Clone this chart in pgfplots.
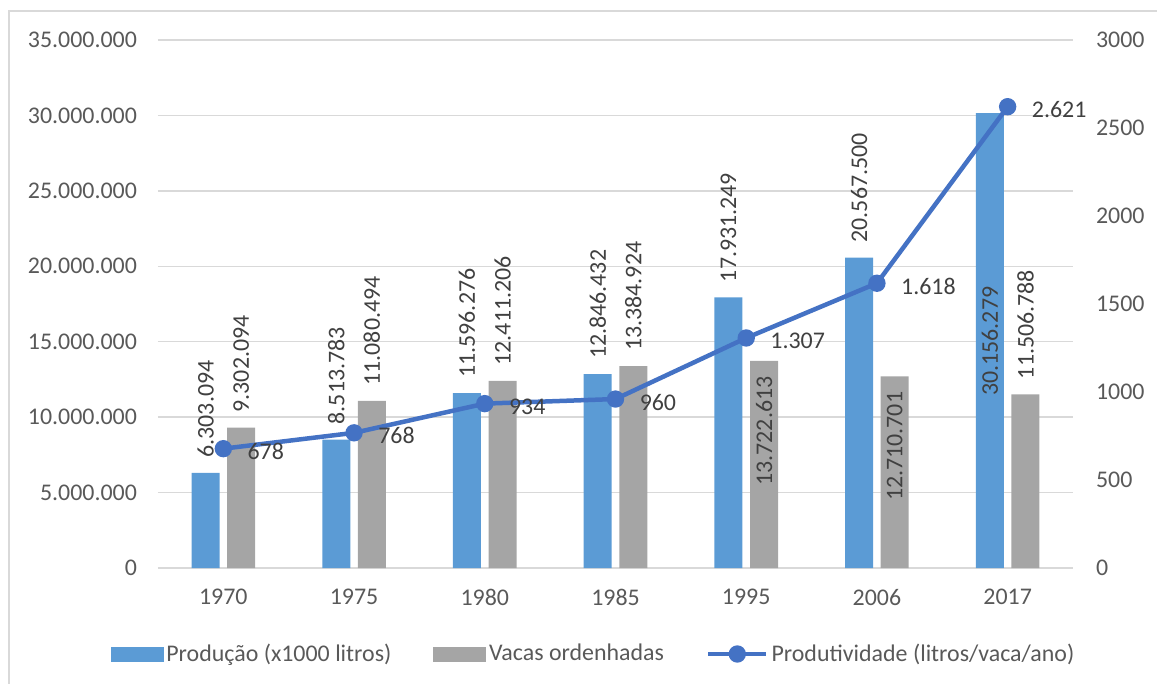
\documentclass[border=0pt]{standalone}
\usepackage{fontspec}
\setmainfont{Carlito}
\usepackage{pgfplots}
\pgfplotsset{compat=1.18}
\usepackage{pgfplotstable}
\definecolor{cprod}{HTML}{5B9BD5}
\definecolor{cvac}{HTML}{A5A5A5}
\definecolor{cline}{HTML}{4472C4}
\definecolor{cgrid}{HTML}{D9D9D9}
\definecolor{ctxt}{HTML}{595959}
\definecolor{clab}{HTML}{404040}
\newcommand\cf{\fontsize{12}{14}\selectfont}

\pgfplotstableread{
x prod prodlab prodsh vac vaclab vacsh pv pvlab
0 6303094 6.303.094 7.5 9302094 9.302.094 7.5 678 678
1 8513783 8.513.783 7.5 11080494 11.080.494 7.5 768 768
2 11596276 11.596.276 7.5 12411206 12.411.206 7.5 934 934
3 12846432 12.846.432 7.5 13384924 13.384.924 7.5 960 960
4 17931249 17.931.249 7.5 13722613 13.722.613 -62.5 1307 1.307
5 20567500 20.567.500 7.5 12710701 12.710.701 -62.5 1618 1.618
6 30156279 30.156.279 -141.5 11506788 11.506.788 7.5 2621 2.621
}\data

\begin{document}
\begin{tikzpicture}
\useasboundingbox (-79bp,-58bp) rectangle (499.5bp,284bp);
\draw[cgrid, line width=0.75bp] (-74.5bp,-58bp) -- (-74.5bp,278.5bp) -- (499.5bp,278.5bp);
\begin{axis}[
  scale only axis, width=457.5bp, height=264bp,
  xmin=-0.5, xmax=6.5, ymin=0, ymax=35000000,
  ybar=3.8bp, bar width=14bp,
  xtick={0,1,2,3,4,5,6},
  xticklabels={1970,1975,1980,1985,1995,2006,2017},
  ytick={0,5000000,10000000,15000000,20000000,25000000,30000000,35000000},
  yticklabels={0,5.000.000,10.000.000,15.000.000,20.000.000,25.000.000,30.000.000,35.000.000},
  scaled y ticks=false,
  ymajorgrids, grid style={cgrid, line width=0.75bp},
  axis line style={draw=none}, major tick length=0,
  tick label style={font=\cf, text=ctxt},
  yticklabel style={xshift=-7bp},
  xticklabel style={yshift=-7bp},
  clip=false,
  nodes near coords align=horizontal,
]
\addplot[fill=cprod, draw=none, nodes near coords, point meta=explicit symbolic,
  visualization depends on={\thisrow{prodsh}\as\lsh},
  every node near coord/.append style={yshift=\lsh bp, rotate=90, anchor=west, inner sep=0pt, font=\cf, text=clab}]
  table[x=x, y=prod, meta=prodlab]{\data};
\addplot[fill=cvac, draw=none, nodes near coords, point meta=explicit symbolic,
  visualization depends on={\thisrow{vacsh}\as\lsh},
  every node near coord/.append style={yshift=\lsh bp, rotate=90, anchor=west, inner sep=0pt, font=\cf, text=clab}]
  table[x=x, y=vac, meta=vaclab]{\data};
\end{axis}
\begin{axis}[
  scale only axis, width=457.5bp, height=264bp,
  xmin=-0.5, xmax=6.5, ymin=0, ymax=3000,
  axis y line*=right, axis x line=none,
  xtick=\empty,
  ytick={0,500,1000,1500,2000,2500,3000},
  yticklabels={0,500,1000,1500,2000,2500,3000},
  major tick length=0, axis line style={draw=none},
  tick label style={font=\cf, text=ctxt},
  yticklabel style={xshift=8bp},
  clip=false,
  legend columns=3,
  legend cell align=left,
  legend style={at={(0.4765,0)}, anchor=center, yshift=-43bp, draw=none, fill=none,
    font=\cf, text=ctxt, nodes={inner sep=1.5bp},
    /tikz/every even column/.append style={column sep=19.5bp}},
]
\addlegendimage{legend image code/.code={\fill[cprod] (0bp,-3.5bp) rectangle (26bp,3.5bp);}}
\addlegendentry{Produção (x1000 litros)}
\addlegendimage{legend image code/.code={\fill[cvac] (0bp,-3.5bp) rectangle (26bp,3.5bp);}}
\addlegendentry{Vacas ordenhadas}
\addplot[cline, line width=2.25bp, mark=*, mark size=3.2bp, mark options={solid, fill=cline},
  nodes near coords, point meta=explicit symbolic,
  every node near coord/.append style={anchor=west, xshift=11bp, yshift=-1.5bp, inner sep=0pt, font=\cf, text=clab},
  legend image code/.code={\draw[cline, line width=2.25bp] (0bp,0bp) -- (29bp,0bp); \fill[cline] (14.5bp,0bp) circle (3.2bp);}]
  table[x=x, y=pv, meta=pvlab]{\data};
\addlegendentry{Produtividade (litros/vaca/ano)}
\end{axis}
\end{tikzpicture}
\end{document}
